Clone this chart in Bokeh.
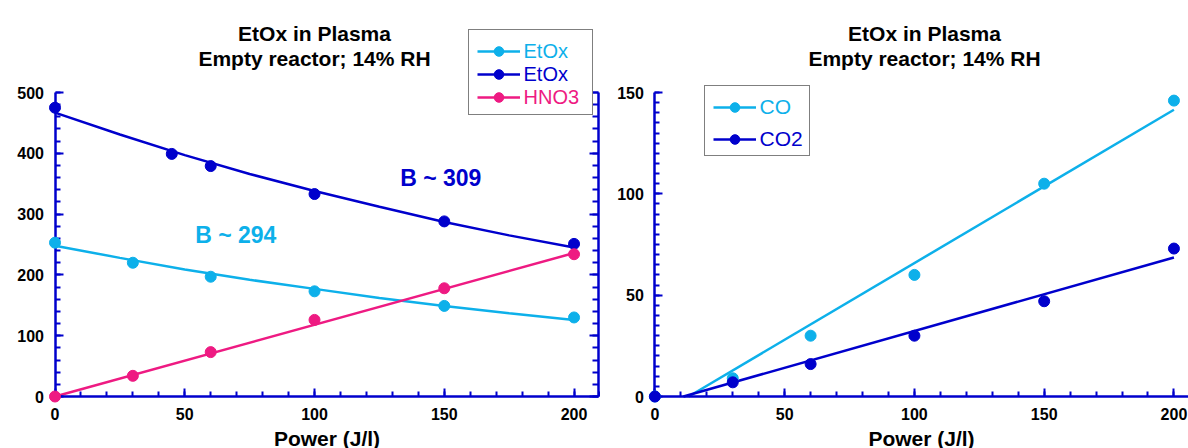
from bokeh.plotting import figure
from bokeh.layouts import row
from bokeh.models import Range1d, LinearAxis, FixedTicker, Legend, LegendItem, Label
from bokeh.embed import file_html
from bokeh.resources import INLINE

# ---------------- data ----------------
TITLE_1 = "EtOx in Plasma"
TITLE_2 = "Empty reactor; 14% RH"
X_LABEL = "Power (J/l)"

# left panel
etox_lb_power = [0, 30, 60, 100, 150, 200]
etox_lb = [253, 220, 197, 173, 149, 130]
etox_db_power = [0, 45, 60, 100, 150, 200]
etox_db = [475, 399, 379, 333, 288, 251]
hno3_power = [0, 30, 60, 100, 150, 200]
hno3 = [0, 34, 73, 126, 178, 234]

# fitted curves
fit_power = [0, 25, 50, 75, 100, 125, 150, 175, 200]
etox_lb_fit = [248, 228, 209, 192, 177, 162, 149, 137, 126]
etox_db_fit = [467, 431, 397, 366, 338, 312, 287, 265, 245]
hno3_fit_power = [0, 200]
hno3_fit = [0, 236]

# right panel
gas_power = [0, 30, 60, 100, 150, 200]
co = [0, 9, 30, 60, 105, 146]
co2 = [0, 7, 16, 30, 47, 73]
co_fit_power = [13, 200]
co_fit = [0, 141.5]
co2_fit_power = [11, 200]
co2_fit = [0, 68.6]

# ticks
x_major = [0, 50, 100, 150, 200]
x_minor = list(range(0, 211, 10))
yl_major = [0, 100, 200, 300, 400, 500]
yl_minor = list(range(0, 501, 20))
yr_major = [0, 50, 100, 150]
yr_minor = list(range(0, 151, 5))

# annotations
ann_lb = "B ~ 294"
ann_db = "B ~ 309"

# ---------------- style ----------------
LB = "#0DB0EA"
DB = "#0000CC"
PK = "#EE1A82"
AX = "#0000CC"
FONT = "Liberation Sans"
H = 448


def style_axis(ax, major, minor, labels=True, mj=8, mn=5):
    ax.ticker = FixedTicker(ticks=major, minor_ticks=minor)
    ax.axis_line_color = AX
    ax.axis_line_width = 2.5
    ax.major_tick_line_color = AX
    ax.major_tick_line_width = 2
    ax.minor_tick_line_color = AX
    ax.minor_tick_line_width = 2
    ax.major_tick_in = mj
    ax.major_tick_out = 0
    ax.minor_tick_in = mn
    ax.minor_tick_out = 0
    ax.major_label_text_font = FONT
    ax.major_label_text_font_style = "bold"
    ax.major_label_text_font_size = "16px"
    ax.major_label_text_color = "black" if labels else None
    ax.major_label_standoff = 11


def make_fig(width, x0_px, y0_px, xscale, yscale, ybound, xbound, title_x, title_y1, title_y2):
    xr = (-x0_px / xscale, (width - x0_px) / xscale)
    yr = (-(H - y0_px) / yscale, y0_px / yscale)
    p = figure(width=width, height=H, x_range=Range1d(*xr), y_range=Range1d(*yr),
               output_backend="svg", toolbar_location=None, min_border=0,
               min_border_left=0, min_border_right=0, min_border_top=0, min_border_bottom=0)
    p.xgrid.visible = False
    p.ygrid.visible = False
    p.outline_line_color = None
    p.background_fill_color = "white"
    p.border_fill_color = "white"
    p.xaxis.fixed_location = 0
    p.yaxis.fixed_location = 0
    p.xaxis.bounds = xbound
    p.yaxis.bounds = ybound
    p.xaxis.axis_label = X_LABEL
    p.xaxis.axis_label_text_font = FONT
    p.xaxis.axis_label_text_font_size = "21px"
    p.xaxis.axis_label_text_font_style = "bold"
    p.xaxis.axis_label_text_color = "black"
    p.xaxis.axis_label_standoff = 4
    for t, yy in ((TITLE_1, title_y1), (TITLE_2, title_y2)):
        p.add_layout(Label(x=title_x, y=yy, text=t, text_align="center",
                           text_baseline="alphabetic", text_font=FONT,
                           text_font_style="bold", text_font_size="21px",
                           text_color="black"))
    return p


def box_legend(p, loc, w, h):
    dummy = p.scatter([], [], alpha=0)
    lg = Legend(items=[LegendItem(label=" ", renderers=[dummy])], location=loc,
                padding=0, label_standoff=0, label_width=0, label_height=0,
                glyph_width=w, glyph_height=h, spacing=0,
                border_line_color="black", border_line_width=1.5,
                background_fill_color="white", background_fill_alpha=1,
                label_text_font_size="1px", label_text_color=None)
    p.add_layout(lg)


def item_legend(p, label, renderers, color, loc, fs):
    lg = Legend(items=[LegendItem(label=label, renderers=renderers)], location=loc,
                padding=0, label_standoff=4, glyph_width=43, glyph_height=24,
                label_height=24, border_line_color=None, background_fill_alpha=0,
                label_text_color=color, label_text_font=FONT, label_text_font_size=fs)
    p.add_layout(lg)


# ---------------- left panel ----------------
XS = 2.5952
p1 = make_fig(600, 54.5, 396, XS, 304 / 500, (0, 500), (0, 209.5),
              100, (396 - 33) * 500 / 304, (396 - 57.5) * 500 / 304)
style_axis(p1.xaxis[0], x_major, x_minor)
style_axis(p1.yaxis[0], yl_major, yl_minor)
rax = LinearAxis(fixed_location=209.5, bounds=(0, 500))
p1.add_layout(rax, "right")
style_axis(rax, yl_major, yl_minor, labels=False, mj=9, mn=6)

l_lb = p1.line(fit_power, etox_lb_fit, line_color=LB, line_width=2.5)
s_lb = p1.scatter(etox_lb_power, etox_lb, size=11, color=LB, level="overlay")
l_db = p1.line(fit_power, etox_db_fit, line_color=DB, line_width=2.5)
s_db = p1.scatter(etox_db_power, etox_db, size=11, color=DB, level="overlay")
l_pk = p1.line(hno3_fit_power, hno3_fit, line_color=PK, line_width=2.5)
s_pk = p1.scatter(hno3_power, hno3, size=11, color=PK, level="overlay")

p1.add_layout(Label(x=54, y=266, text=ann_lb, text_color=LB, text_font=FONT,
                    text_font_style="bold", text_font_size="23px", text_baseline="middle"))
p1.add_layout(Label(x=133, y=360, text=ann_db, text_color=DB, text_font=FONT,
                    text_font_style="bold", text_font_size="23px", text_baseline="middle"))

box_legend(p1, (468, H - 115), 123, 84)
item_legend(p1, "EtOx", [l_lb, s_lb], LB, (476.5, H - 51 - 12), "20px")
item_legend(p1, "EtOx", [l_db, s_db], DB, (476.5, H - 74 - 12), "20px")
item_legend(p1, "HNO3", [l_pk, s_pk], PK, (476.5, H - 97 - 12), "20px")

# ---------------- right panel ----------------
p2 = make_fig(588, 54.4, 396, XS, 304 / 150, (0, 150), (0, 300),
              (924 - 654.4) / XS, (396 - 33) * 150 / 304, (396 - 57.5) * 150 / 304)
style_axis(p2.xaxis[0], x_major, x_minor)
style_axis(p2.yaxis[0], yr_major, yr_minor)

l_co = p2.line(co_fit_power, co_fit, line_color=LB, line_width=2.5)
s_co = p2.scatter(gas_power, co, size=11, color=LB, level="overlay")
l_co2 = p2.line(co2_fit_power, co2_fit, line_color=DB, line_width=2.5)
s_co2 = p2.scatter(gas_power, co2, size=11, color=DB, level="overlay")

box_legend(p2, (103.5, H - 155.7), 104, 69)
item_legend(p2, "CO", [l_co, s_co], LB, (112.5, H - 106.7 - 12), "21px")
item_legend(p2, "CO2", [l_co2, s_co2], DB, (112.5, H - 138.7 - 12), "21px")

layout = row(p1, p2, spacing=0)
open("out.html", "w").write(file_html(layout, INLINE))
